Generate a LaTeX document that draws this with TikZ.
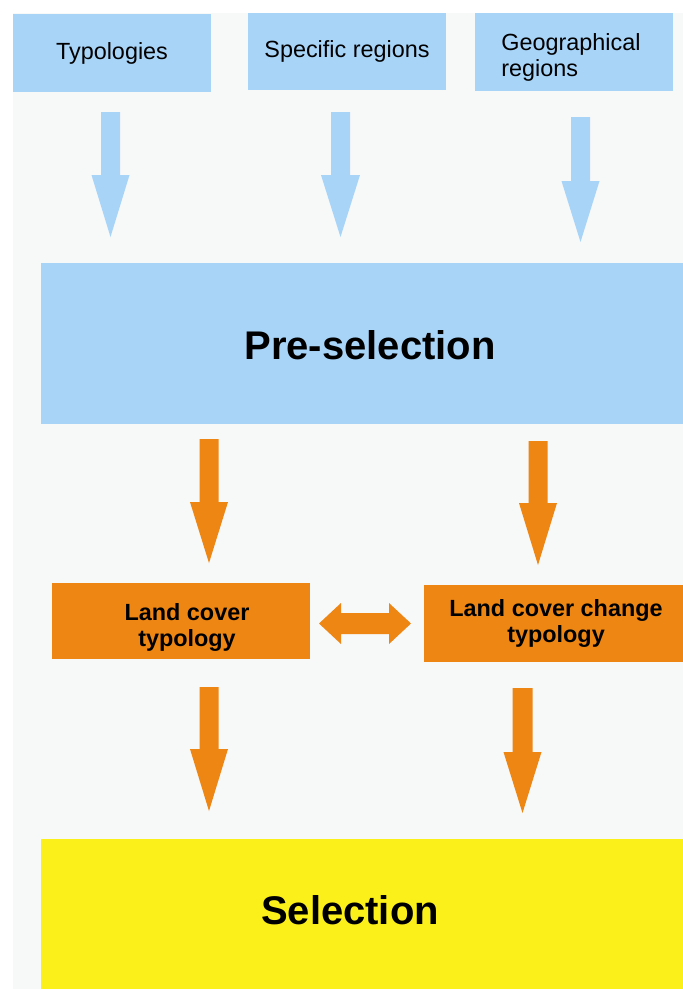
\documentclass[tikz,border=0pt]{standalone}
\usepackage{fontspec}
\setmainfont{Liberation Sans}
\definecolor{bgc}{HTML}{F7F8F8}
\definecolor{skyb}{HTML}{A8D4F8}
\definecolor{orng}{HTML}{EE8614}
\definecolor{yelw}{HTML}{FCF01A}
\newcommand\blockdown[7]{%
  \fill[#1] ({#2-#6},#3) -- ({#2+#6},#3) -- ({#2+#6},#4) -- ({#2+#7},#4)
    -- (#2,#5) -- ({#2-#7},#4) -- ({#2-#6},#4) -- cycle;}
\begin{document}
\begin{tikzpicture}[x=1pt,y=-1pt,
  box/.style={rectangle,inner sep=0pt,outer sep=0pt,draw=none},
  toplbl/.style={font=\fontsize{23.4}{26}\selectfont,align=center},
  midlbl/.style={font=\fontsize{23.4}{26}\selectfont\bfseries,align=center},
  biglbl/.style={font=\fontsize{40}{46}\selectfont\bfseries}]
\useasboundingbox (0,0) rectangle (683,989);
\fill[white] (0,0) rectangle (683,989);
\fill[bgc] (13,13) rectangle (683,989);

% top boxes
\node[box,fill=skyb,minimum width=198pt,minimum height=78pt,toplbl] (typ) at (112,53) {Typologies};
\node[box,fill=skyb,minimum width=198pt,minimum height=77pt,toplbl] (spec) at (347,51) {Specific regions};
\node[box,fill=skyb,minimum width=198pt,minimum height=78pt] (geo) at (574,52) {};
\node[toplbl,align=left,inner sep=0pt] (geot) at (571,57) {Geographical\\regions};

% pre-selection
\node[box,fill=skyb,minimum width=642pt,minimum height=161pt] (pre) at (362,343.5) {};
\node[biglbl,inner sep=0pt] (pret) at (370,345) {Pre-selection};

% blue arrows
\blockdown{skyb}{110.5}{112}{175}{237}{9.5}{19}
\blockdown{skyb}{340.5}{112}{175}{237}{9.5}{19.5}
\blockdown{skyb}{580.5}{117}{181}{242}{9.5}{19}

% orange arrows
\blockdown{orng}{209}{439}{502}{563}{9.5}{19}
\blockdown{orng}{538}{441}{503}{565}{9.5}{19}
\blockdown{orng}{209}{687}{749}{811}{9.5}{19}
\blockdown{orng}{522.5}{688}{752}{813}{10}{19}

% land cover boxes
\node[box,fill=orng,minimum width=258pt,minimum height=76pt] (lc) at (181,621) {};
\node[midlbl,inner sep=0pt] (lct) at (187,627) {Land cover\\typology};
\node[box,fill=orng,minimum width=259pt,minimum height=77pt] (lcc) at (553.5,623.5) {};
\node[midlbl,inner sep=0pt] (lcct) at (556,623) {Land cover change\\typology};

% double arrow
\coordinate (dl) at (319,623.5);
\coordinate (dr) at (411,623.5);
\fill[orng] (dl) -- (341,603) -- (341,613) -- (389,613) -- (389,603) -- (dr)
  -- (389,644) -- (389,634) -- (341,634) -- (341,644) -- cycle;

% selection
\node[box,fill=yelw,minimum width=642pt,minimum height=150pt] (sel) at (362,914) {};
\node[biglbl,inner sep=0pt] (selt) at (350,910) {Selection};
\end{tikzpicture}
\end{document}
